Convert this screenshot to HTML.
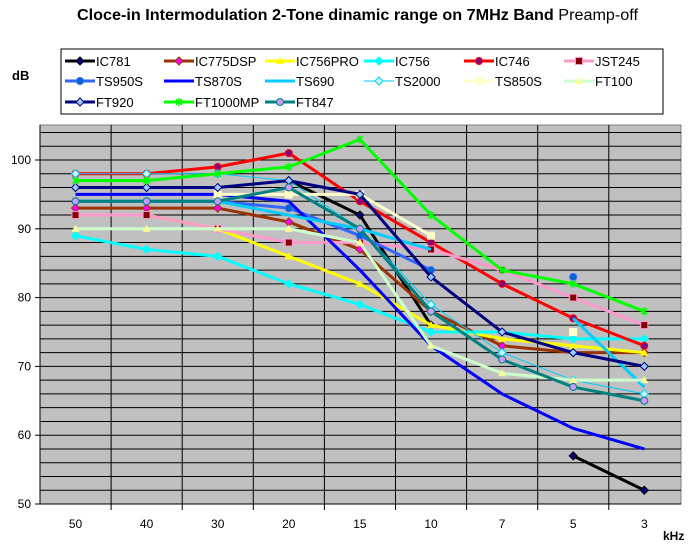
<!DOCTYPE html>
<html><head><style>
body{margin:0;background:#fff;font-family:"Liberation Sans",Arial,sans-serif}
svg text{font-family:"Liberation Sans",Arial,sans-serif}
</style></head><body>
<svg id="s" width="690" height="544" xmlns="http://www.w3.org/2000/svg">
<text x="77" y="20" font-size="15.5" font-weight="bold" textLength="561" lengthAdjust="spacingAndGlyphs">Cloce-in Intermodulation  2-Tone dinamic range on 7MHz Band <tspan font-weight="normal">Preamp-off</tspan></text>
<text x="12" y="80" font-size="13" font-weight="bold">dB</text>
<rect x="61" y="49" width="602" height="65" fill="#fff" stroke="#000"/>
<rect x="40" y="125" width="641" height="379" fill="#c0c0c0" stroke="#808080"/>
<g id="g"></g>
</svg>
<script>
const s=document.getElementById('g');let h='';
const X=i=>75.5+71.1*i, Y=v=>504-(v-50)*6.88;
for(let v=52;v<=104;v+=2)h+=`<line x1="40" x2="681" y1="${Y(v)}" y2="${Y(v)}" stroke="#000"/>`;
for(let i=1;i<9;i++){const x=40+71.1*i;h+=`<line x1="${x}" x2="${x}" y1="125" y2="510" stroke="#000"/>`;}
h+=`<line x1="40" x2="681" y1="504" y2="504" stroke="#000"/><line x1="40" x2="40" y1="125" y2="504" stroke="#000"/>`;
for(let v=50;v<=100;v+=10){h+=`<line x1="35" x2="40" y1="${Y(v)}" y2="${Y(v)}" stroke="#000"/><text x="31" y="${Y(v)+4}" font-size="12" text-anchor="end">${v}</text>`;}
['50','40','30','20','15','10','7','5','3'].forEach((t,i)=>h+=`<text x="${X(i)}" y="528" font-size="12" text-anchor="middle">${t}</text>`);
h+=`<text x="663" y="540" font-size="12" font-weight="bold">kHz</text>`;
const n=null;
const S=[
['IC781','#000','#000080','d',[n,n,n,97,92,76,n,57,52],2],
['IC775DSP','#993300','#ff00ff','d',[93,93,93,91,87,78,73,72,72],2],
['IC756PRO','#ffff00','#ffff00','t',[92,92,90,86,82,76,74,73,72],2],
['IC756','#00ffff','#00ffff','d',[89,87,86,82,79,75,75,74,74],2],
['IC746','#ff0000','#800080','c',[98,98,99,101,94,88,82,77,73],2],
['JST245','#ff99cc','#800000','s',[92,92,90,88,88,87,84,80,76],2],
['TS950S','#3366ff','#0066cc','c',[94,94,94,93,89,84,n,83,n],2],
['TS870S','#0000ff','#0000ff','n',[95,95,95,94,84,73,66,61,58],2],
['TS690','#00ccff','#00ccff','n',[94,94,94,92,90,87,n,77,67],2],
['TS2000','#00ccff','#ccffff','d',[98,98,98,97,90,79,72,68,66],1],
['TS850S','#ffffcc','#ffffcc','s',[n,n,95,95,95,89,n,75,n],2],
['FT100','#ccffcc','#ffff99','t',[90,90,90,90,88,73,69,68,68],2],
['FT920','#000080','#99ccff','d',[96,96,96,97,95,83,75,72,70],2],
['FT1000MP','#00ff00','#00ff00','x',[97,97,98,99,103,92,84,82,78],2],
['FT847','#008080','#cc99ff','c',[94,94,94,96,90,78,71,67,65],2]];
function M(t,x,y,c,lc){
 if(t=='d')return `<polygon points="${x},${y-4} ${x+4},${y} ${x},${y+4} ${x-4},${y}" fill="${c}" stroke="${lc}" stroke-width="1"/>`;
 if(t=='c')return `<circle cx="${x}" cy="${y}" r="3.5" fill="${c}" stroke="${lc}"/>`;
 if(t=='s')return `<rect x="${x-3.5}" y="${y-3.5}" width="7" height="7" fill="${c}" stroke="${lc}"/>`;
 if(t=='t')return `<polygon points="${x},${y-4} ${x+4},${y+3} ${x-4},${y+3}" fill="${c}"/>`;
 if(t=='x')return `<path d="M${x-3} ${y-3}L${x+3} ${y+3}M${x+3} ${y-3}L${x-3} ${y+3}M${x} ${y-4}V${y+4}" stroke="${c}" stroke-width="1.5"/>`;
 return '';}
S.forEach((d,k)=>{
 const [nm,lc,mc,t,v,w]=d;let seg=[];
 const flush=()=>{if(seg.length>1)h+=`<polyline points="${seg.join(' ')}" fill="none" stroke="${lc}" stroke-width="${w==1?1:3}"/>`;seg=[];};
 v.forEach((y,i)=>{if(y==null)flush();else seg.push(X(i)+','+Y(y));});flush();
 v.forEach((y,i)=>{if(y!=null)h+=M(t,X(i),Y(y),mc,lc);});
 const col=k%6,row=Math.floor(k/6);const lx=[65,164,265,364,464,564][col],ly=[61,81,102][row];
 h+=`<line x1="${lx}" x2="${lx+30}" y1="${ly}" y2="${ly}" stroke="${lc}" stroke-width="${w==1?1:3}"/>`+M(t,lx+15,ly,mc,lc);
 h+=`<text x="${lx+31}" y="${ly+5}" font-size="13">${nm}</text>`;
});
s.innerHTML=h;
</script>
</body></html>
